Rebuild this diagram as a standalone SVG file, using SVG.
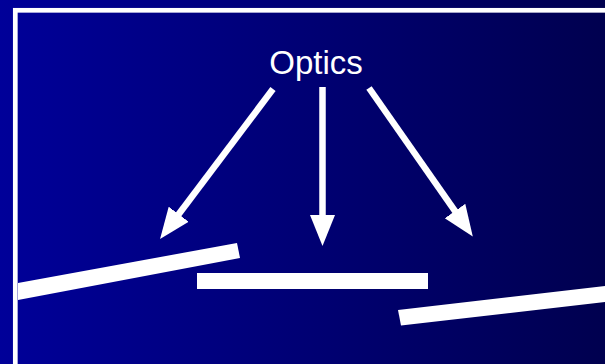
<svg xmlns="http://www.w3.org/2000/svg" width="605" height="364" viewBox="0 0 605 364">
  <defs>
    <linearGradient id="bg" x1="0" y1="0" x2="1" y2="0">
      <stop offset="0" stop-color="#000099"/>
      <stop offset="1" stop-color="#00004f"/>
    </linearGradient>
    <marker id="head" markerUnits="userSpaceOnUse" markerWidth="32" markerHeight="26" refX="1" refY="12.5" orient="auto" viewBox="0 0 32 25">
      <polygon points="0,0 31,12.5 0,25" fill="#fff"/>
    </marker>
    <style>
      .arrow { stroke: #fff; stroke-width: 6.5; fill: none; marker-end: url(#head); }
      .mirror { fill: #fff; }
      .label { font-family: "Liberation Sans", Arial, sans-serif; font-size: 33px; fill: #fff; text-anchor: middle; }
    </style>
  </defs>
  <rect x="0" y="0" width="605" height="364" fill="url(#bg)"/>
  <rect x="15.3" y="10.3" width="620" height="400" fill="none" stroke="#fff" stroke-width="4.7"/>
  <g id="optics">
    <text class="label" x="316" y="73.5">Optics</text>
  </g>
  <g id="mirror-left">
    <polygon class="mirror" points="18,283 237,243 240,258 18,300"/>
  </g>
  <g id="mirror-center">
    <rect class="mirror" x="197" y="273" width="231" height="16"/>
  </g>
  <g id="mirror-right">
    <polygon class="mirror" points="398,310 605,286 605,302 401,325.5"/>
  </g>
  <g id="connectors">
    <line class="arrow" x1="273" y1="89" x2="178.1" y2="215"/>
    <line class="arrow" x1="322.5" y1="87" x2="322.5" y2="216"/>
    <line class="arrow" x1="369" y1="88" x2="455.6" y2="211.8"/>
  </g>
</svg>
